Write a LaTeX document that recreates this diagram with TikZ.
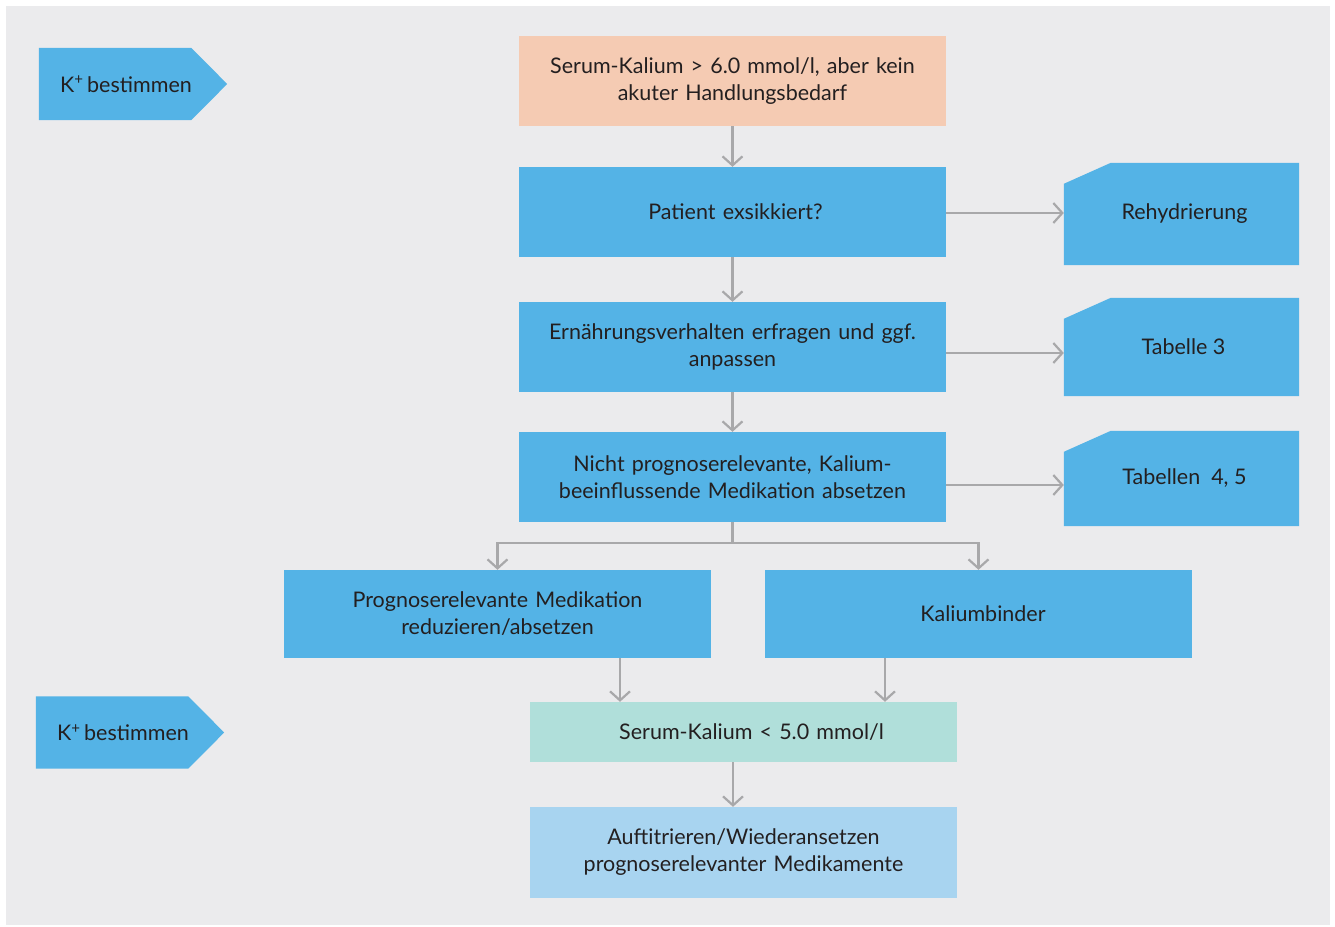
\documentclass[tikz,border=0pt]{standalone}
\usepackage{fontspec}
\setmainfont{Lato}
\usetikzlibrary{arrows.meta,calc}
\definecolor{panelbg}{HTML}{EBEBED}
\definecolor{boxblue}{HTML}{54B3E6}
\definecolor{boxorange}{HTML}{F5CBB3}
\definecolor{boxteal}{HTML}{B0DFDA}
\definecolor{boxlight}{HTML}{A8D4F0}
\definecolor{arrgray}{HTML}{A8A8AA}
\definecolor{txt}{HTML}{231F20}
\pgfdeclarelayer{back}
\pgfsetlayers{back,main}
\begin{document}
\begin{tikzpicture}[x=1pt,y=-1pt,
  font=\fontsize{21.5}{27}\selectfont, text=txt,
  box/.style={fill=boxblue, minimum width=427pt, minimum height=90pt, inner sep=0pt, align=center, text width=420pt},
  tagbox/.style={minimum width=235pt, inner sep=0pt, align=center},
  pent/.style={minimum width=188pt, minimum height=72pt, inner sep=0pt},
  arr/.style={draw=arrgray, line width=2.2pt, -{Straight Barb[length=9pt,width=20pt]}},
  link/.style={draw=arrgray, line width=2.2pt}]
\useasboundingbox (0,0) rectangle (1335,926);
% main boxes
\node[box, fill=boxorange] (a) at (732.5,81) {Serum-Kalium > 6.0 mmol/l, aber kein\\akuter Handlungsbedarf};
\node[box] (b) at (732.5,212) {\hspace*{6pt}Patient exsikkiert?};
\node[box] (c) at (732.5,347) {Ernährungsverhalten erfragen und ggf.\\anpassen};
\node[box] (d) at (732.5,477) {Nicht prognoserelevante, Kalium-\\beeinflussende Medikation absetzen};
\node[box, minimum height=88pt] (e) at (497.5,614) {Prognoserelevante Medikation\\reduzieren/absetzen};
\node[box, minimum height=88pt] (f) at (978.5,614) {\hspace*{9pt}Kaliumbinder};
\node[box, fill=boxteal, minimum height=60pt] (g) at (743.5,732) {\hspace*{16pt}Serum-Kalium < 5.0 mmol/l};
\node[box, fill=boxlight, minimum height=91pt] (h) at (743.5,852.5) {Auftitrieren/Wiederansetzen\\prognoserelevanter Medikamente};
% tag boxes
\node[tagbox, minimum height=102pt] (r1) at (1181.5,214) {\hspace*{6pt}Rehydrierung};
\node[tagbox, minimum height=98pt] (r2) at (1181.5,347) {\hspace*{4pt}Tabelle 3};
\node[tagbox, minimum height=95pt] (r3) at (1181.5,478.5) {\hspace*{6pt}Tabellen\ \ 4, 5};
% pentagons
\node[pent] (k1) at (133,84) {\hspace*{-14pt}K\textsuperscript{+}\,bestimmen};
\node[pent] (k2) at (130,732.5) {\hspace*{-14pt}K\textsuperscript{+}\,bestimmen};
\begin{pgfonlayer}{back}
  \fill[white] (0,0) rectangle (1335,926);
  \fill[panelbg] (6,6) rectangle (1330,925);
  \foreach \r in {r1,r2,r3}{
    \fill[boxblue] ($(\r.north west)+(0,21)$) -- ($(\r.north west)+(47,0)$) -- (\r.north east) -- (\r.south east) -- (\r.south west) -- cycle;
  }
  \foreach \k in {k1,k2}{
    \fill[boxblue] (\k.north west) -- ($(\k.north east)+(-36,0)$) -- (\k.east) -- ($(\k.south east)+(-36,0)$) -- (\k.south west) -- cycle;
  }
\end{pgfonlayer}
% connectors
\draw[arr] (a) -- (b);
\draw[arr] (b) -- (c);
\draw[arr] (c) -- (d);
\draw[arr] ($(b.east)+(0,1)$) -- ($(b.east -| r1.west)+(0,1)$);
\draw[arr] ($(c.east)+(0,6)$) -- ($(c.east -| r2.west)+(0,6)$);
\draw[arr] ($(d.east)+(0,8)$) -- ($(d.east -| r3.west)+(0,8)$);
\draw[link] (d.south) -- ++(0,21) coordinate (j);
\draw[arr] (j) -| (e.north);
\draw[arr] (j) -| (f.north);
\draw[arr] (e.south -| 620,0) -- (g.north -| 620,0);
\draw[arr] (f.south -| 885,0) -- (g.north -| 885,0);
\draw[arr] (g.south -| 733,0) -- (h.north -| 733,0);
\end{tikzpicture}
\end{document}
